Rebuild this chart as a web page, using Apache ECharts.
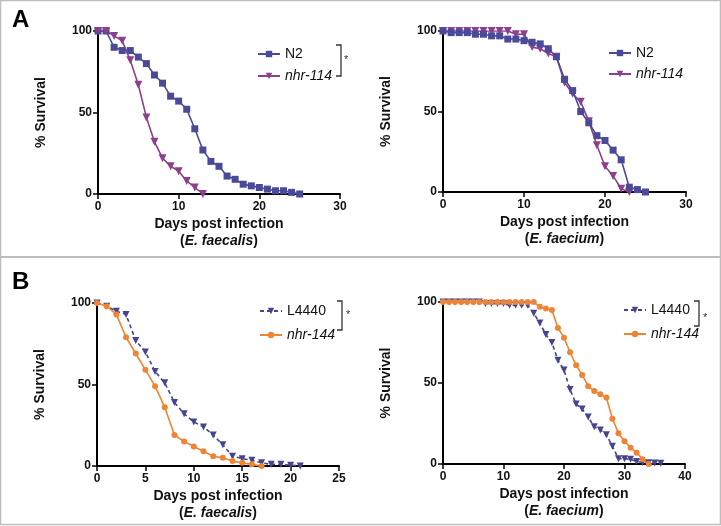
<!DOCTYPE html>
<html>
<head>
<meta charset="utf-8">
<script src="https://cdn.jsdelivr.net/npm/echarts@6/dist/echarts.min.js"></script>
<style>
html,body{margin:0;padding:0;background:#fff;}
#c{width:721px;height:526px;}
</style>
</head>
<body>
<div id="c"></div>
<script>
// ---- Data ----
// Panel A left (E. faecalis)
const a1N2Days = [0,1,2,3,4,5,6,7,8,9,10,11,12,13,14,15,16,17,18,19,20,21,22,23,24,25];
const a1N2Vals = [100,100,90,88,88,84,80,73,68,60,57,52,40,27,20,17,11,9,6,5,4,3,2,2,1,0];
const a1NhrDays = [0,1,2,3,4,5,6,7,8,9,10,11,12,13];
const a1NhrVals = [100,100,97,94,82,67,47,32,22,17,14,8,4,0];
// Panel A right (E. faecium)
const a2N2Days = [0,1,2,3,4,5,6,7,8,9,10,11,12,13,14,15,16,17,18,19,20,21,22,23,24,25];
const a2N2Vals = [100,99,99,99,98,98,97,97,95,95,94,93,92,89,84,70,63,50,43,35,32,26,20,3,1.5,0];
const a2NhrDays = [0,1,2,3,4,5,6,7,8,9,10,11,12,13,14,15,16,17,18,19,20,21,22,23];
const a2NhrVals = [100,100,100,100,100,100,100,100,100,98,98,90,89,86,84,68,61,56,44,29,16,10,2,0];
// Panel B left (E. faecalis)
const b1LDays = [0,1,2,3,4,5,6,7,8,9,10,11,12,13,14,15,16,17,18,19,20,21];
const b1LVals = [100,98,95,93,77,70,58,51,39,32,27,24,19,13,6,4.5,3.5,2,1,1,0.5,0];
const b1NDays = [0,1,2,3,4,5,6,7,8,9,10,11,12,13,14,15,16,17];
const b1NVals = [100,98,93,79,69,59,49,36,19,15,12,9,6,5,3,2,1,0];
// Panel B right (E. faecium)
const b2LDays = [0,1,2,3,4,5,6,7,8,9,10,11,12,13,14,15,16,17,18,19,20,21,22,23,24,25,26,27,28,29,30,31,32,33,34,35,36];
const b2LVals = [100,100,100,100,100,100,100,99,99,99,99,98,98,98,98,93,87,80,75,64,58,46,37,34,29,23,21,18,11,3.3,3.3,2.9,1.6,1,0.8,0.6,0.4];
const b2NDays = [0,1,2,3,4,5,6,7,8,9,10,11,12,13,14,15,16,17,18,19,20,21,22,23,24,25,26,27,28,29,30,31,32,33,34];
const b2NVals = [100,100,100,100,100,100,100,100,100,100,100,100,100,100,100,100,97,96,95,84,78,69,61,55,48,45,43,41,28,19,14,10,7,3,0];

const xTicksA = [0,10,20,30];
const xTicksB1 = [0,5,10,15,20,25];
const xTicksB2 = [0,10,20,30,40];
const yTicks = [0,50,100];

const nameN2 = 'N2', name114 = 'nhr-114', nameL = 'L4440', name144 = 'nhr-144';
const xTitle = 'Days post infection';
const bugA = 'E. faecalis', bugB = 'E. faecium';

// ---- Styles ----
const NAVY = '#4b4a98';
const PURPLE = '#8c3f8c';
const NAVY2 = '#45458f';
const ORANGE = '#ee8434';
const FONT = '"Liberation Sans", Arial, sans-serif';

function pairs(d, v){ return d.map((x,i)=>[x, v[i]]); }

const grids = [
  {left:98, top:31, width:242, height:163},
  {left:443, top:31, width:243, height:161},
  {left:97, top:303, width:242, height:163},
  {left:443, top:302, width:242, height:162}
];
const xTickSets = [xTicksA, xTicksA, xTicksB1, xTicksB2];
const bugs = [bugA, bugB, bugA, bugB];

function xAxis(i){
  const t = xTickSets[i];
  return {
    type:'value', gridIndex:i, min:t[0], max:t[t.length-1], interval:t[1]-t[0],
    axisLine:{show:true, onZero:false, lineStyle:{color:'#000', width:2}},
    axisTick:{show:true, length:5, lineStyle:{color:'#000', width:1.5}},
    axisLabel:{color:'#111', fontFamily:FONT, fontWeight:'bold', fontSize:12, margin:7},
    splitLine:{show:false},
    name: '{b|' + xTitle + '}\n{b|(}{i|' + bugs[i] + '}{b|)}',
    nameLocation:'middle', nameGap:22,
    nameTextStyle:{
      rich:{
        b:{fontFamily:FONT, fontWeight:'bold', fontSize:14, color:'#111', lineHeight:17},
        i:{fontFamily:FONT, fontWeight:'bold', fontStyle:'italic', fontSize:14, color:'#111', lineHeight:17}
      }
    }
  };
}
function yAxis(i){
  return {
    type:'value', gridIndex:i, min:yTicks[0], max:yTicks[yTicks.length-1], interval:yTicks[1]-yTicks[0],
    axisLine:{show:true, onZero:false, lineStyle:{color:'#000', width:2}},
    axisTick:{show:true, length:5, lineStyle:{color:'#000', width:1.5}},
    axisLabel:{color:'#111', fontFamily:FONT, fontWeight:'bold', fontSize:12, margin:6},
    splitLine:{show:false},
    name:'% Survival', nameLocation:'middle', nameGap:50,
    nameTextStyle:{fontFamily:FONT, fontWeight:'bold', fontSize:14, color:'#111'}
  };
}

function lineSeries(name, gi, data, color, symbol, size, dashed, rot){
  return {
    type:'line', name:name, xAxisIndex:gi, yAxisIndex:gi, data:data,
    symbol:symbol, symbolSize:size, symbolRotate:rot||0, showSymbol:true,
    itemStyle:{color:color, borderWidth:0},
    lineStyle:{color:color, width:1.6, type: dashed ? [4,3] : 'solid'},
    animation:false, z:3
  };
}

const series = [
  lineSeries(nameN2, 0, pairs(a1N2Days, a1N2Vals), NAVY, 'rect', 7, false),
  lineSeries(name114, 0, pairs(a1NhrDays, a1NhrVals), PURPLE, 'triangle', 8, false, 180),
  lineSeries(nameN2+' ', 1, pairs(a2N2Days, a2N2Vals), NAVY, 'rect', 7, false),
  lineSeries(name114+' ', 1, pairs(a2NhrDays, a2NhrVals), PURPLE, 'triangle', 8, false, 180),
  lineSeries(nameL, 2, pairs(b1LDays, b1LVals), NAVY2, 'triangle', 7, true, 180),
  lineSeries(name144, 2, pairs(b1NDays, b1NVals), ORANGE, 'circle', 6, false),
  lineSeries(nameL+' ', 3, pairs(b2LDays, b2LVals), NAVY2, 'triangle', 7, true, 180),
  lineSeries(name144+' ', 3, pairs(b2NDays, b2NVals), ORANGE, 'circle', 6, false)
];
series[3].z = 2;

const legendText = {
  fontFamily:FONT, fontSize:14, color:'#111',
  rich:{ i:{fontFamily:FONT, fontSize:14, fontStyle:'italic', color:'#111'} }
};
function legend(names, left, top, gap){
  return {
    data:names, left:left, top:top, orient:'vertical', itemWidth:22, itemHeight:8, itemGap:gap,
    textStyle:legendText, selectedMode:false,
    formatter:function(n){ return n.trim().indexOf('nhr')===0 ? '{i|'+n.trim()+'}' : n.trim(); }
  };
}

function bracket(x, y1, y2){
  return {type:'polyline', shape:{points:[[x-5,y1],[x,y1],[x,y2],[x-5,y2]]},
          style:{stroke:'#333', lineWidth:1.3, fill:null}};
}
function star(x, y){
  return {type:'text', x:x, y:y, style:{text:'*', font:'11px '+FONT, fill:'#333'}};
}

const option = {
  backgroundColor:'#fff',
  animation:false,
  grid: grids,
  xAxis: [0,1,2,3].map(xAxis),
  yAxis: [0,1,2,3].map(yAxis),
  legend: [
    legend([nameN2, name114], 252, 42, 8),
    legend([nameN2+' ', name114+' '], 603, 41, 7),
    legend([nameL, name144], 254, 299, 10),
    legend([nameL+' ', name144+' '], 618, 298, 10)
  ],
  series: series,
  graphic: [
    {type:'rect', shape:{x:0.5, y:0.5, width:720, height:524}, style:{stroke:'#bdbdbd', lineWidth:1.5, fill:null}},
    {type:'line', shape:{x1:0, y1:257, x2:721, y2:257}, style:{stroke:'#bdbdbd', lineWidth:2}},
    {type:'text', x:12, y:8, style:{text:'A', font:'bold 24px '+FONT, fill:'#000'}},
    {type:'text', x:12, y:270, style:{text:'B', font:'bold 24px '+FONT, fill:'#000'}},
    bracket(341, 45, 76), star(344, 54),
    bracket(342, 301, 330), star(346, 309),
    bracket(699, 301, 326), star(703, 312)
  ]
};

const chart = echarts.init(document.getElementById('c'), null, {renderer:'canvas'});
chart.setOption(option);
</script>
</body>
</html>
